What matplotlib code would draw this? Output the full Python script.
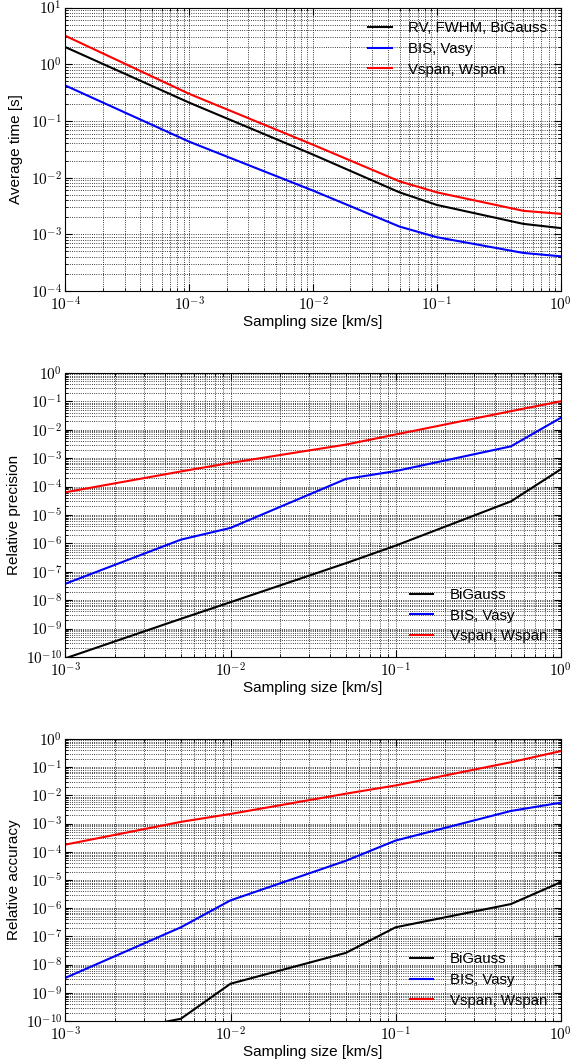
import numpy as np
import matplotlib
matplotlib.use("Agg")
import matplotlib.pyplot as plt
from matplotlib.ticker import LogLocator, NullFormatter

# panel 1: average computing time
x_time = [1e-4, 1e-3, 1e-2, 5e-2, 1e-1, 5e-1, 1.0]
t_rv = [2.0, 0.21, 0.0255, 0.0055, 0.0033, 0.00153, 0.00129]
t_bis = [0.42, 0.043, 0.0059, 0.00137, 0.00089, 0.00047, 0.00041]
t_vspan = [3.16, 0.30, 0.038, 0.0086, 0.0055, 0.0026, 0.0023]

# panel 2: relative precision
x_prec = [1e-3, 5e-3, 1e-2, 5e-2, 1e-1, 5e-1, 1.0]
p_big = [9e-11, 2.2e-9, 8.5e-9, 2.0e-7, 8.3e-7, 3.0e-5, 4.0e-4]
p_bis = [3.8e-8, 1.35e-6, 3.5e-6, 1.85e-4, 3.5e-4, 2.6e-3, 0.026]
p_vspan = [6.3e-5, 3.4e-4, 6.8e-4, 3.0e-3, 6.8e-3, 0.045, 0.1]

# panel 3: relative accuracy
x_acc = [1e-3, 5e-3, 1e-2, 5e-2, 1e-1, 5e-1, 1.0]
a_big = [1.9e-11, 1.2e-10, 2.1e-9, 2.6e-8, 2.1e-7, 1.4e-6, 8.3e-6]
a_bis = [3.4e-9, 2.1e-7, 1.9e-6, 4.8e-5, 2.5e-4, 2.8e-3, 5.5e-3]
a_vspan = [1.8e-4, 1.15e-3, 2.2e-3, 0.0115, 0.0225, 0.15, 0.37]

plt.rcParams['mathtext.fontset'] = 'cm'
plt.rcParams['font.family'] = ['Liberation Sans', 'DejaVu Sans']
plt.rcParams['font.size'] = 10

fig = plt.figure(figsize=(5.71, 10.61), dpi=100)
positions = [[0.1147, 0.7257, 0.867, 0.2672],
             [0.1147, 0.3808, 0.867, 0.2677],
             [0.1147, 0.0377, 0.867, 0.2658]]


def style_axes(ax, xlim, ylim, ylabel, ylab_x):
    ax.set_xscale('log')
    ax.set_yscale('log')
    ax.set_xlim(*xlim)
    ax.set_ylim(*ylim)
    xe = range(int(np.log10(xlim[0])), int(np.log10(xlim[1])) + 1)
    ye = range(int(np.log10(ylim[0])), int(np.log10(ylim[1])) + 1)
    ax.set_xticks([10.0 ** e for e in xe])
    ax.set_xticklabels([r'$10^{%d}$' % e for e in xe])
    ax.set_yticks([10.0 ** e for e in ye])
    ax.set_yticklabels([r'$10^{%d}$' % e for e in ye])
    ax.xaxis.set_minor_locator(LogLocator(base=10, subs=np.arange(2, 10), numticks=100))
    ax.yaxis.set_minor_locator(LogLocator(base=10, subs=np.arange(2, 10), numticks=100))
    ax.xaxis.set_minor_formatter(NullFormatter())
    ax.yaxis.set_minor_formatter(NullFormatter())
    ax.tick_params(which='both', direction='in', top=True, right=True, labelsize=11)
    ax.tick_params(axis='y', pad=2.5)
    ax.tick_params(which='major', length=5)
    ax.tick_params(which='minor', length=2.5)
    ax.grid(True, which='both', linestyle=':', color='black', linewidth=0.6)
    ax.set_axisbelow(True)
    ax.set_xlabel('Sampling size [km/s]', fontsize=11, labelpad=1)
    ax.set_ylabel(ylabel, fontsize=11)
    ax.yaxis.set_label_coords(ylab_x, 0.5)


leg_kw = dict(frameon=False, handlelength=1.55, handletextpad=1.1,
              labelspacing=0.45, fontsize=10.8)

ax1 = fig.add_axes(positions[0])
ax1.plot(x_time, t_rv, color='black', lw=1.5, label='RV, FWHM, BiGauss')
ax1.plot(x_time, t_bis, color='blue', lw=1.5, label='BIS, Vasy')
ax1.plot(x_time, t_vspan, color='red', lw=1.5, label='Vspan, Wspan')
style_axes(ax1, (1e-4, 1), (1e-4, 10), 'Average time [s]', -0.085)
ax1.legend(loc='upper right', **leg_kw)

ax2 = fig.add_axes(positions[1])
ax2.plot(x_prec, p_big, color='black', lw=1.5, label='BiGauss')
ax2.plot(x_prec, p_bis, color='blue', lw=1.5, label='BIS, Vasy')
ax2.plot(x_prec, p_vspan, color='red', lw=1.5, label='Vspan, Wspan')
style_axes(ax2, (1e-3, 1), (1e-10, 1), 'Relative precision', -0.09)
ax2.legend(loc='lower right', **leg_kw)

ax3 = fig.add_axes(positions[2])
ax3.plot(x_acc, a_big, color='black', lw=1.5, label='BiGauss')
ax3.plot(x_acc, a_bis, color='blue', lw=1.5, label='BIS, Vasy')
ax3.plot(x_acc, a_vspan, color='red', lw=1.5, label='Vspan, Wspan')
style_axes(ax3, (1e-3, 1), (1e-10, 1), 'Relative accuracy', -0.09)
ax3.legend(loc='lower right', **leg_kw)

fig.savefig('out.png', dpi=100)
